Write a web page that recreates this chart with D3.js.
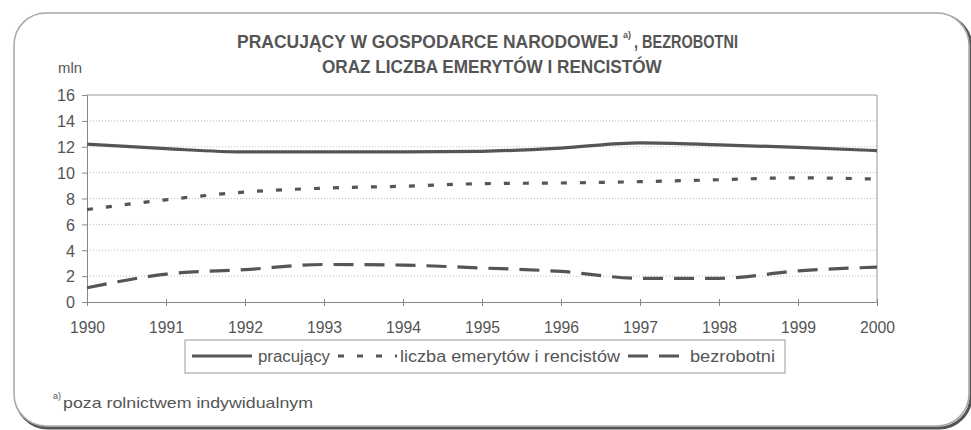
<!DOCTYPE html>
<html>
<head>
<meta charset="utf-8">
<script src="https://cdn.jsdelivr.net/npm/d3@7"></script>
<style>
  body { margin: 0; background: #fff; }
  text { font-family: "Liberation Sans", Arial, sans-serif; fill: #555; }
</style>
</head>
<body>
<script>
//Data
    const years = [1990, 1991, 1992, 1993, 1994, 1995, 1996, 1997, 1998, 1999, 2000];
    const pracujacy = [12.2, 11.85, 11.6, 11.6, 11.6, 11.65, 11.9, 12.3, 12.15, 11.95, 11.7];
    const emeryci = [7.15, 7.9, 8.5, 8.8, 8.95, 9.15, 9.2, 9.3, 9.45, 9.6, 9.5];
    const bezrobotni = [1.1, 2.15, 2.5, 2.9, 2.85, 2.63, 2.36, 1.83, 1.83, 2.4, 2.7];
    const yTicks = [0, 2, 4, 6, 8, 10, 12, 14, 16];

//Page and plot area
    const width = 971;
    const height = 430;
    const plotLeft = 87, plotRight = 877, plotTop = 95, plotBottom = 302;
    const ink = "#555";

    const svg = d3.select("body")
                .append("svg")
                .attr("width", width)
                .attr("height", height);

//Rounded frame, with darker shadow on the bottom right
    svg.append("rect")
        .attr("x", 16).attr("y", 15)
        .attr("width", 955).attr("height", 413)
        .attr("rx", 32).attr("ry", 32)
        .attr("fill", "none")
        .attr("stroke", "#555")
        .attr("stroke-width", 3);
    svg.append("rect")
        .attr("x", 14).attr("y", 13)
        .attr("width", 955).attr("height", 413)
        .attr("rx", 32).attr("ry", 32)
        .attr("fill", "#fff")
        .attr("stroke", "#a8a8a8")
        .attr("stroke-width", 1.5);

//Scales
    const xScale = d3.scalePoint()
                    .domain(years)
                    .range([plotLeft, plotRight]);

    const yScale = d3.scaleLinear()
                    .domain([0, 16])
                    .range([plotBottom, plotTop]);

//Gridlines (dotted)
    svg.append("g")
        .selectAll("line")
        .data(yTicks.filter(d => d > 0 && d < 16))
        .enter()
        .append("line")
        .attr("x1", plotLeft).attr("x2", plotRight)
        .attr("y1", d => yScale(d)).attr("y2", d => yScale(d))
        .attr("stroke", "#bbb")
        .attr("stroke-dasharray", "1,2");

//Plot box top and right
    svg.append("path")
        .attr("d", `M${plotLeft},${yScale(16)}H${plotRight}V${yScale(0)}`)
        .attr("fill", "none")
        .attr("stroke", "#999");

//Axes
    const leftAxis = d3.axisLeft(yScale)
                    .tickValues(yTicks)
                    .tickSize(5)
                    .tickPadding(7);
    const bottomAxis = d3.axisBottom(xScale)
                    .tickSizeInner(4)
                    .tickSizeOuter(0)
                    .tickPadding(16);

    const gy = svg.append("g")
        .attr("transform", "translate(" + plotLeft + ",0)")
        .call(leftAxis);
    const gx = svg.append("g")
        .attr("transform", "translate(0," + plotBottom + ")")
        .call(bottomAxis);
    gx.selectAll(".tick line").attr("y1", -3);

    [gy, gx].forEach(g => {
        g.select(".domain").attr("stroke", "#888");
        g.selectAll(".tick line").attr("stroke", "#888");
        g.selectAll("text")
            .attr("fill", ink)
            .style("font-family", "'Liberation Sans', Arial, sans-serif")
            .style("font-size", "16px")
            .attr("lengthAdjust", "spacingAndGlyphs");
    });
    gx.selectAll("text").attr("textLength", 35);
    gy.selectAll("text").attr("textLength", d => d >= 10 ? 18 : 9).attr("dy", "0.36em");

//Lines
    const line = d3.line()
                .x((d, i) => xScale(years[i]))
                .y(d => yScale(d))
                .curve(d3.curveMonotoneX);

    const series = [
        { name: "pracujący", values: pracujacy, dash: null },
        { name: "liczba emerytów i rencistów", values: emeryci, dash: "6,13" },
        { name: "bezrobotni", values: bezrobotni, dash: "20,11" }
    ];

    svg.selectAll(".series")
        .data(series)
        .enter()
        .append("path")
        .attr("class", "series")
        .attr("d", d => line(d.values))
        .attr("fill", "none")
        .attr("stroke", ink)
        .attr("stroke-width", 3.2)
        .attr("stroke-dasharray", d => d.dash);

//Title: condensed by squeezing each piece horizontally to its width in the scan
    function squeezed(x, y, w, size, str) {
        const t = svg.append("text")
            .style("font-weight", "bold")
            .style("font-size", size + "px")
            .text(str);
        const k = w / t.node().getComputedTextLength();
        t.attr("transform", `translate(${x},${y}) scale(${k},1)`);
        return t;
    }
    squeezed(237, 48, 382, 19, "PRACUJĄCY W GOSPODARCE NARODOWEJ");
    svg.append("text")
        .attr("x", 623).attr("y", 38)
        .style("font-weight", "bold")
        .style("font-size", "9px")
        .text("a)");
    squeezed(634, 48, 104, 19, ", BEZROBOTNI");
    squeezed(322, 73, 340, 19, "ORAZ LICZBA EMERYTÓW I RENCISTÓW");

//Unit label
    svg.append("text")
        .attr("x", 58).attr("y", 73)
        .style("font-size", "14px")
        .attr("textLength", 24).attr("lengthAdjust", "spacingAndGlyphs")
        .text("mln");

//Legend
    const legend = svg.append("g");
    legend.append("rect")
        .attr("x", 185).attr("y", 340)
        .attr("width", 600).attr("height", 33)
        .attr("fill", "#fff")
        .attr("stroke", "#999");

    const legendItems = [
        { x1: 192, x2: 252, tx: 258, tw: 72 },
        { x1: 338, x2: 397, tx: 400, tw: 220 },
        { x1: 628, x2: 684, tx: 690, tw: 85 }
    ];
    legendItems.forEach((p, i) => {
        legend.append("line")
            .attr("x1", p.x1).attr("x2", p.x2)
            .attr("y1", 356).attr("y2", 356)
            .attr("stroke", ink)
            .attr("stroke-width", 3.2)
            .attr("stroke-dasharray", series[i].dash);
        legend.append("text")
            .attr("x", p.tx).attr("y", 362)
            .style("font-size", "16px")
            .attr("textLength", p.tw).attr("lengthAdjust", "spacingAndGlyphs")
            .text(series[i].name);
    });

//Footnote
    svg.append("text")
        .attr("x", 53).attr("y", 399)
        .style("font-size", "9px")
        .text("a)");
    svg.append("text")
        .attr("x", 63).attr("y", 408)
        .style("font-size", "15px")
        .attr("textLength", 250).attr("lengthAdjust", "spacingAndGlyphs")
        .text("poza rolnictwem  indywidualnym");
</script>
</body>
</html>
